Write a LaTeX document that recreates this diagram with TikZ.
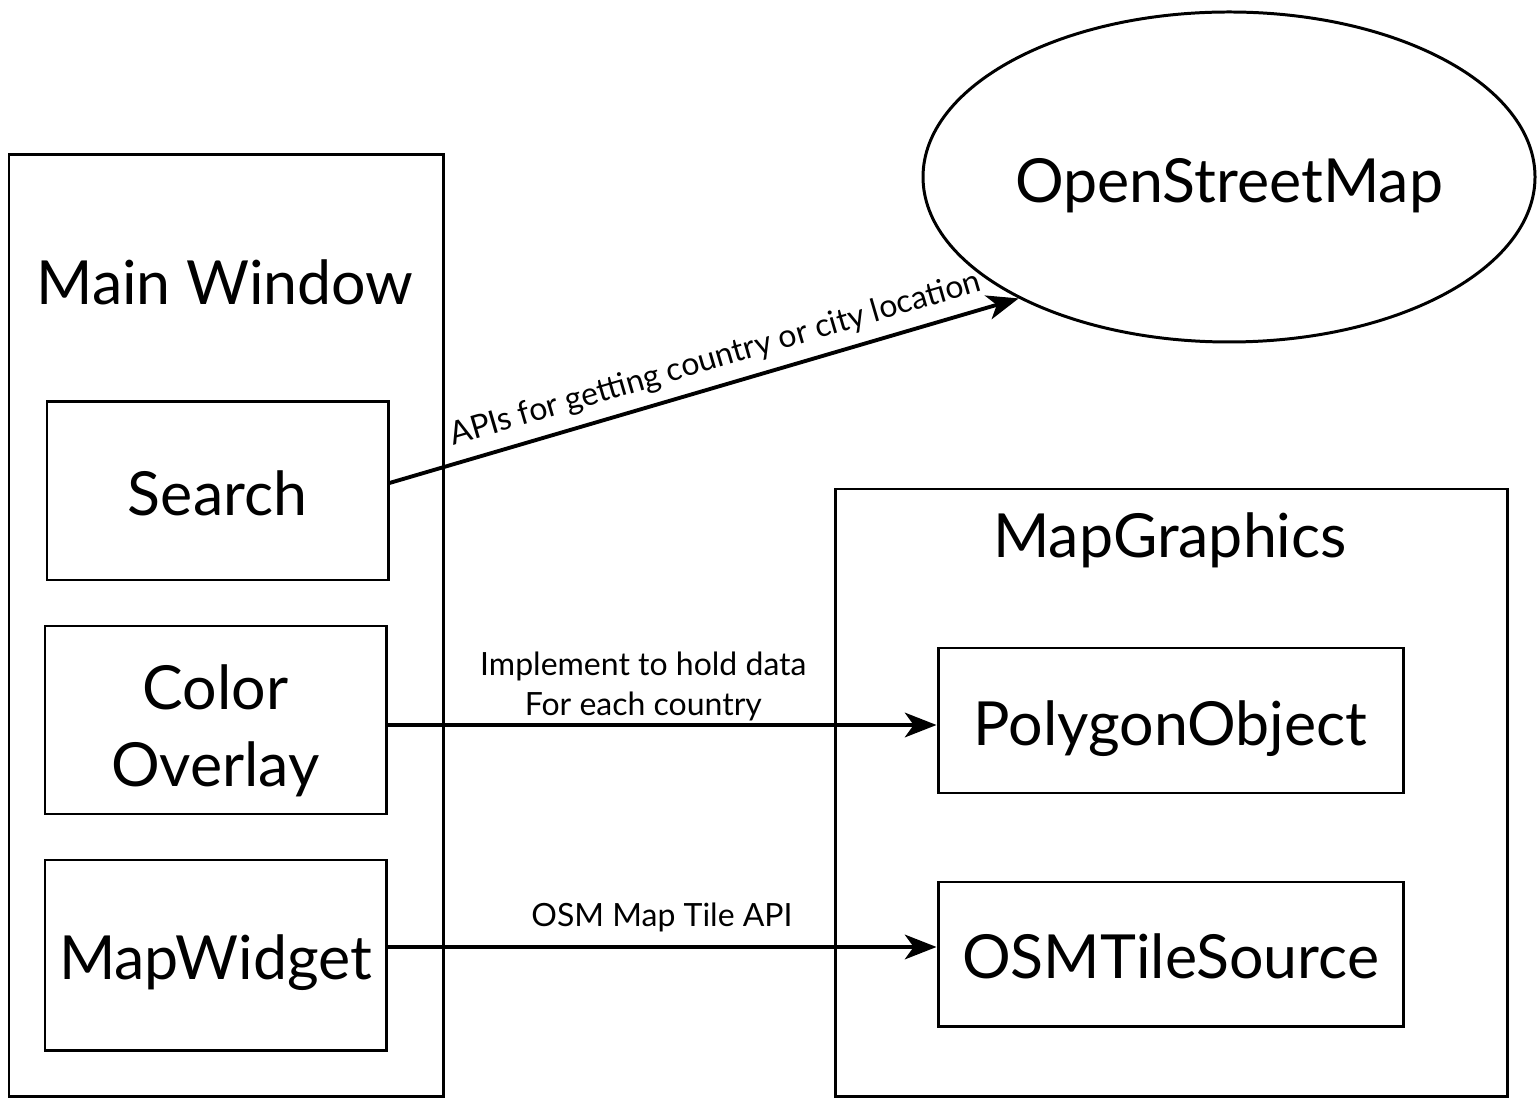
\documentclass[tikz,border=0pt]{standalone}
\usepackage{fontspec}
\setmainfont{Lato}
\usetikzlibrary{shapes.geometric,arrows.meta}
\begin{document}
\begin{tikzpicture}[x=0.01cm,y=-0.01cm,
  box/.style={draw=black,line width=0.85pt,rectangle,inner sep=0pt,align=center,font=\fontsize{17.3}{21.9}\selectfont},
  onebox/.style={box,text height=14.5pt,text depth=0.3pt},
  title/.style={inner sep=0pt,font=\fontsize{17.3}{21.9}\selectfont},
  lbl/.style={inner sep=0pt,font=\fontsize{9.1}{11.3}\selectfont,align=center},
  conn/.style={line width=1.1pt,-{Stealth[length=9pt,width=7pt,inset=2.5pt]}}]
\useasboundingbox (0,0) rectangle (1537,1098);
\node[box,minimum width=434*0.01cm,minimum height=941*0.01cm] (mainwin) at (226,625.5) {};
\node[title] (mwtitle) at (225,282) {Main Window};
\node[onebox,minimum width=341*0.01cm,minimum height=178*0.01cm] (search) at (217.5,491) {Search};
\node[box,text height=40.6pt,minimum width=341*0.01cm,minimum height=188*0.01cm] (color) at (215.5,720) {Color\\Overlay};
\node[onebox,minimum width=341*0.01cm,minimum height=190*0.01cm] (mapwidget) at (215.5,955) {MapWidget};
\node[box,ellipse,text height=16pt,text depth=1.5pt,minimum width=612*0.01cm,minimum height=330*0.01cm] (osm) at (1229,177) {\makebox[0pt]{OpenStreetMap}};
\node[box,minimum width=672*0.01cm,minimum height=607*0.01cm] (mapgraphics) at (1171,792.5) {};
\node[title] (mgtitle) at (1170,540) {MapGraphics};
\node[onebox,minimum width=465*0.01cm,minimum height=145*0.01cm] (polygon) at (1170.5,720.5) {PolygonObject};
\node[onebox,minimum width=465*0.01cm,minimum height=144*0.01cm] (tile) at (1170.5,954) {OSMTileSource};
\draw[conn] ([yshift=0.08cm]search.east) -- node[lbl,pos=0.53,above=0.1cm,sloped] {APIs for getting country or city location} (osm.210);
\draw[conn] ([yshift=-0.05cm]color.east) -- node[lbl,pos=0.466,above=0.02cm] {Implement to hold data\\For each country} ([yshift=-0.045cm]polygon.west);
\draw[conn] ([yshift=0.08cm]mapwidget.east) -- node[lbl,midway,above=0.13cm] {OSM Map Tile API} ([yshift=0.07cm]tile.west);
\end{tikzpicture}
\end{document}
